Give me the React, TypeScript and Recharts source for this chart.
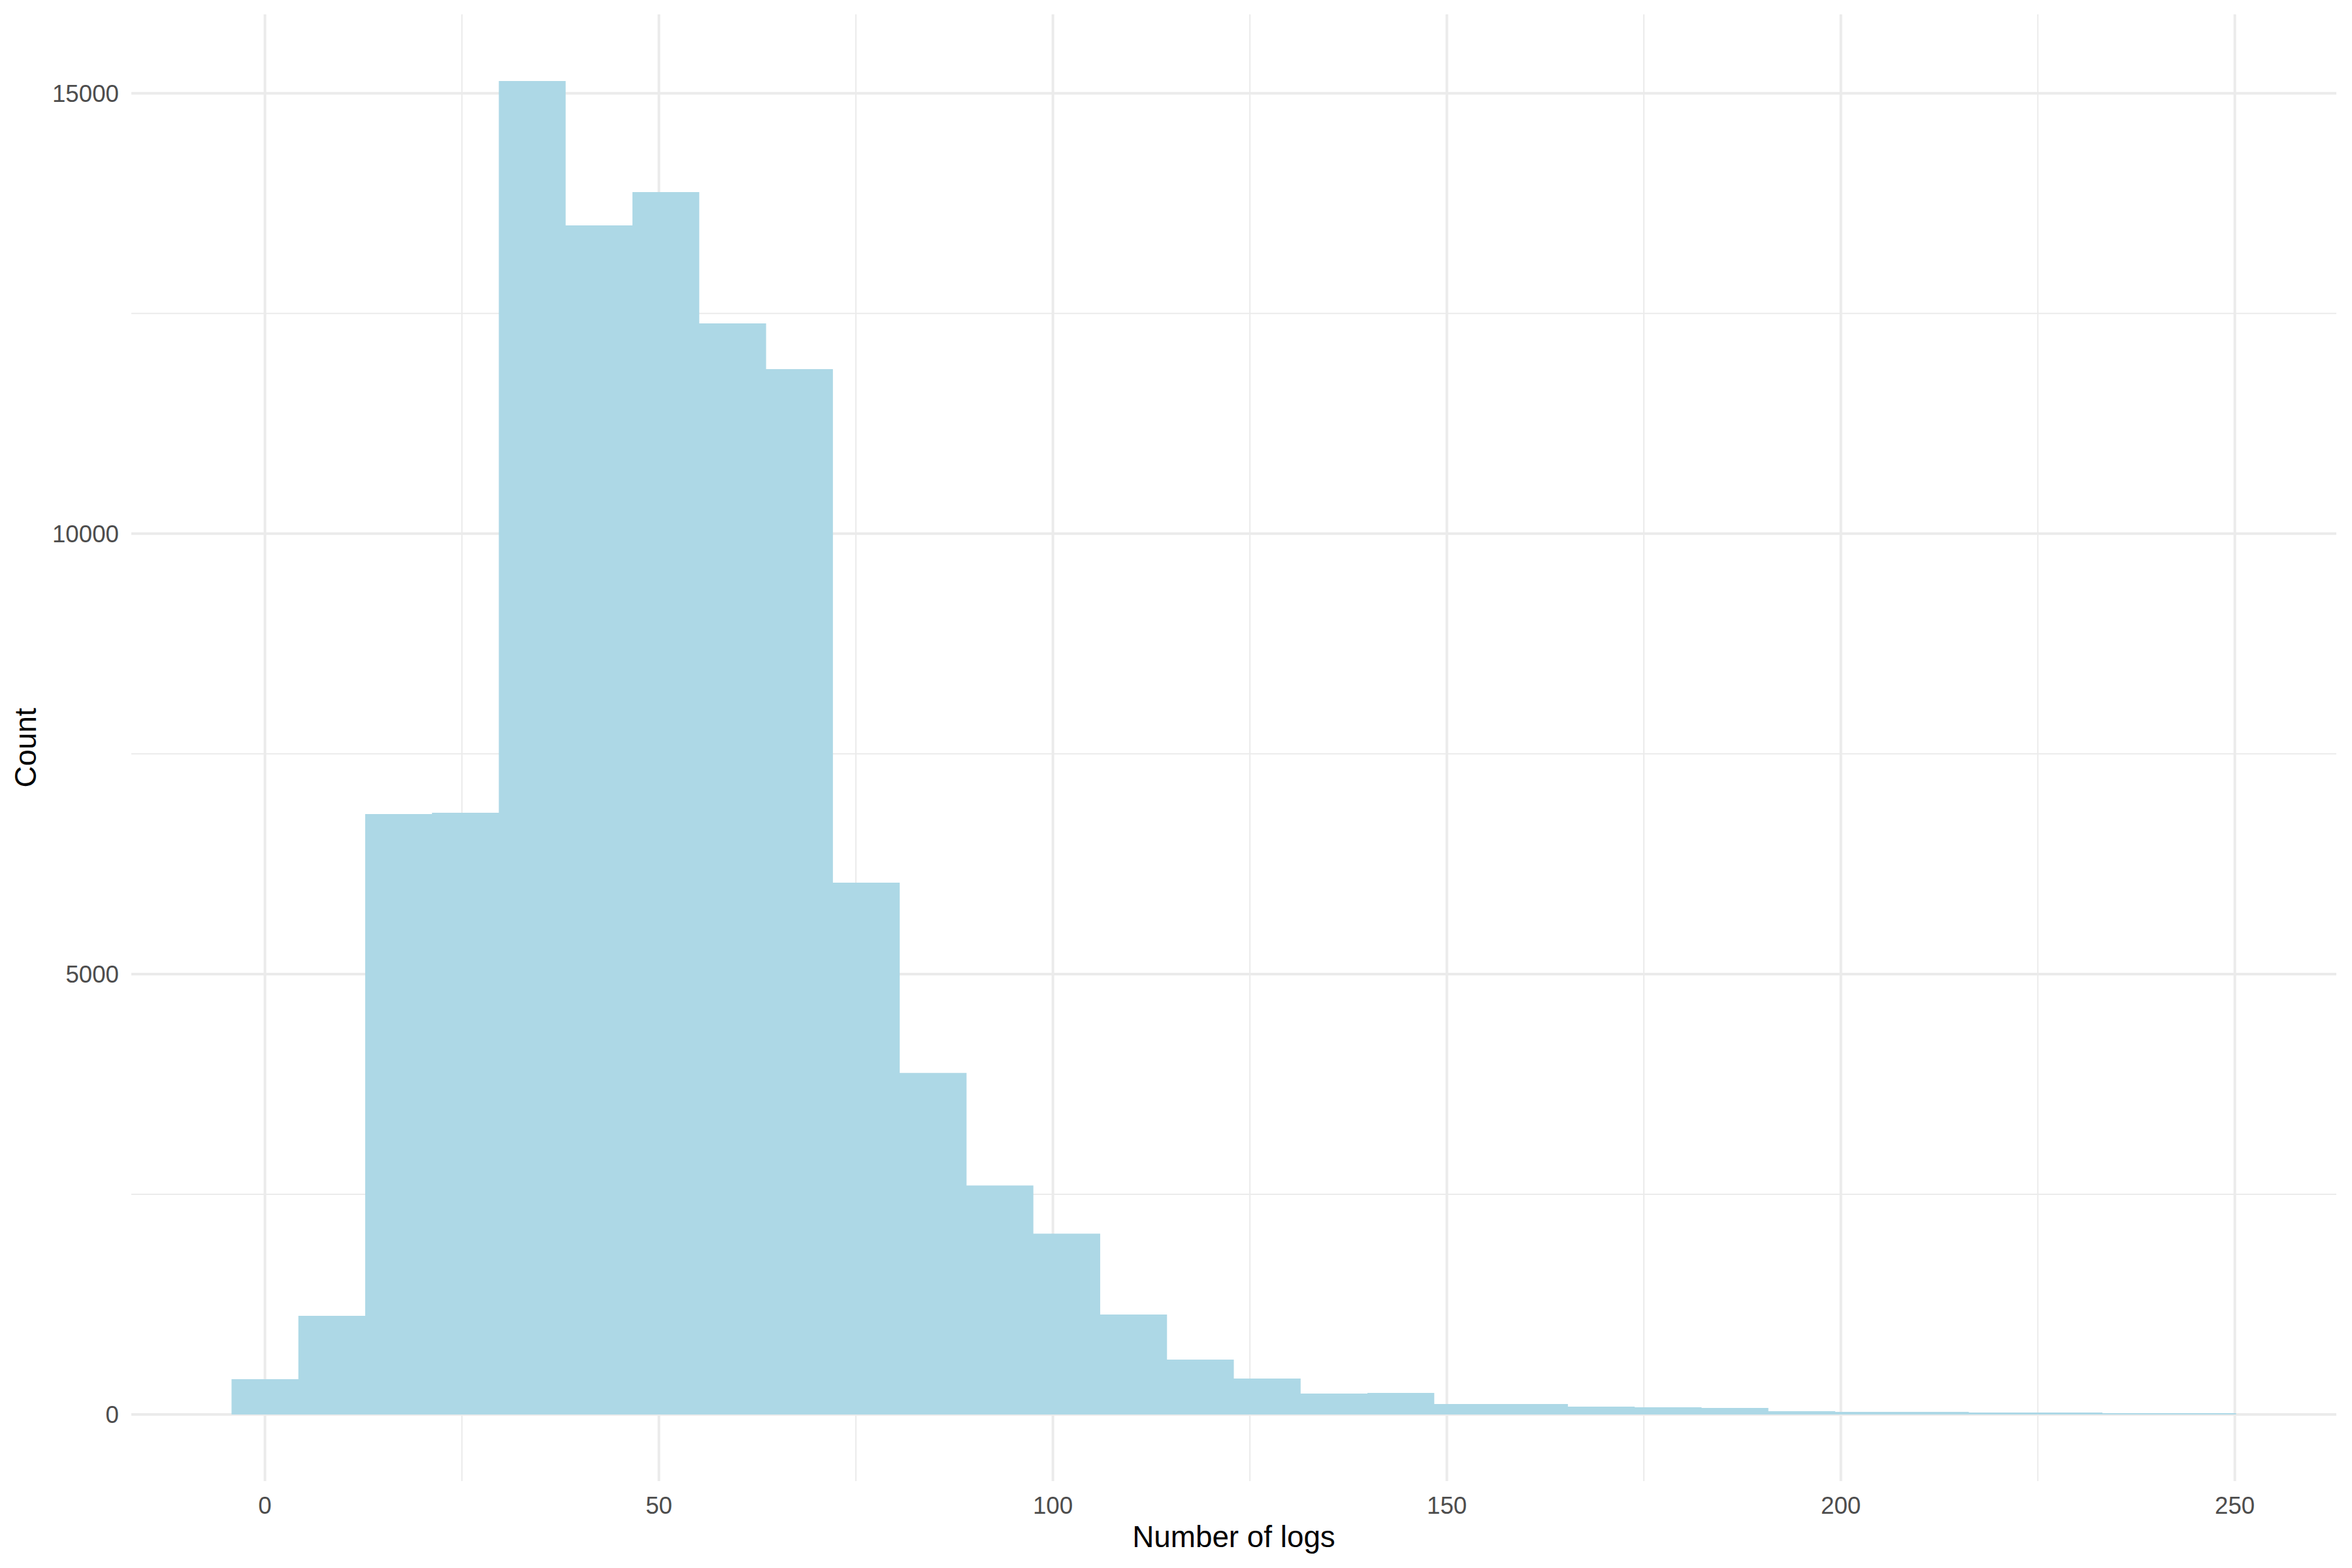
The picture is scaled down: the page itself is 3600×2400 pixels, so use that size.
import { ComposedChart, Area, XAxis, YAxis, CartesianGrid } from 'recharts';

// histogram bins (edges of 30 bins, width ~8.48) and counts
const binEdges = [
  -4.24, 4.24, 12.72, 21.2, 29.68, 38.16, 46.64, 55.12, 63.6, 72.08, 80.56,
  89.04, 97.52, 106.0, 114.48, 122.96, 131.44, 139.92, 148.4, 156.88, 165.36,
  173.84, 182.32, 190.8, 199.28, 207.76, 216.24, 224.72, 233.2, 241.68, 250.16,
];
const counts = [
  400, 1120, 6816, 6831, 15139, 13500, 13878, 12387, 11868, 6038,
  3877, 2600, 2052, 1135, 623, 408, 237, 245, 119, 119,
  89, 82, 74, 37, 30, 30, 22, 22, 15, 15,
];

const xTicks = [0, 50, 100, 150, 200, 250];
const xMinor = [25, 75, 125, 175, 225];
const yTicks = [0, 5000, 10000, 15000];
const yMinor = [2500, 7500, 12500];

const FONT = '"Liberation Sans", Arial, sans-serif';
const GRID = '#EBEBEB';

// step area: each edge carries the count of the bin that starts there
const data = binEdges.map((x, i) => ({ x, count: counts[Math.min(i, counts.length - 1)] }));

function CountLabel(props: any) {
  const vb = props.viewBox || { x: 0, y: 0, width: 0, height: 0 };
  const x = vb.x + 39;
  const y = vb.y + vb.height / 2;
  return (
    <text
      x={x}
      y={y}
      transform={`rotate(-90, ${x}, ${y})`}
      textAnchor="middle"
      dominantBaseline="central"
      fontFamily={FONT}
      fontSize={45.8}
      fill="#000"
    >
      Count
    </text>
  );
}

export default function App() {
  return (
    <div style={{ position: 'absolute', left: 0, top: 0, width: 3600, height: 2400, background: '#fff' }}>
      <ComposedChart width={3600} height={2400} data={data} margin={{ top: 22, right: 24, bottom: 0, left: 0 }}>
        <CartesianGrid horizontal={false} verticalValues={xMinor} stroke={GRID} strokeWidth={2} />
        <CartesianGrid vertical={false} horizontalValues={yMinor} stroke={GRID} strokeWidth={2} />
        <CartesianGrid horizontal={false} verticalValues={xTicks} stroke={GRID} strokeWidth={4} />
        <CartesianGrid vertical={false} horizontalValues={yTicks} stroke={GRID} strokeWidth={4} />
        <XAxis
          dataKey="x"
          type="number"
          domain={[-16.96, 262.88]}
          allowDataOverflow
          ticks={xTicks}
          axisLine={false}
          tickLine={false}
          tickSize={0}
          tickMargin={24}
          height={133}
          tick={{ fill: '#4D4D4D', fontSize: 36.7, fontFamily: FONT }}
          label={{ value: 'Number of logs', position: 'insideBottom', offset: 32, fill: '#000', fontSize: 45.8, fontFamily: FONT }}
        />
        <YAxis
          type="number"
          domain={[-757, 15896]}
          allowDataOverflow
          ticks={yTicks}
          axisLine={false}
          tickLine={false}
          tickSize={0}
          tickMargin={19}
          width={201}
          tick={{ fill: '#4D4D4D', fontSize: 36.7, fontFamily: FONT }}
          label={<CountLabel />}
        />
        <Area
          dataKey="count"
          type="stepAfter"
          baseValue={0}
          fill="#ADD8E6"
          fillOpacity={1}
          stroke="none"
          isAnimationActive={false}
          dot={false}
          activeDot={false}
        />
      </ComposedChart>
    </div>
  );
}
